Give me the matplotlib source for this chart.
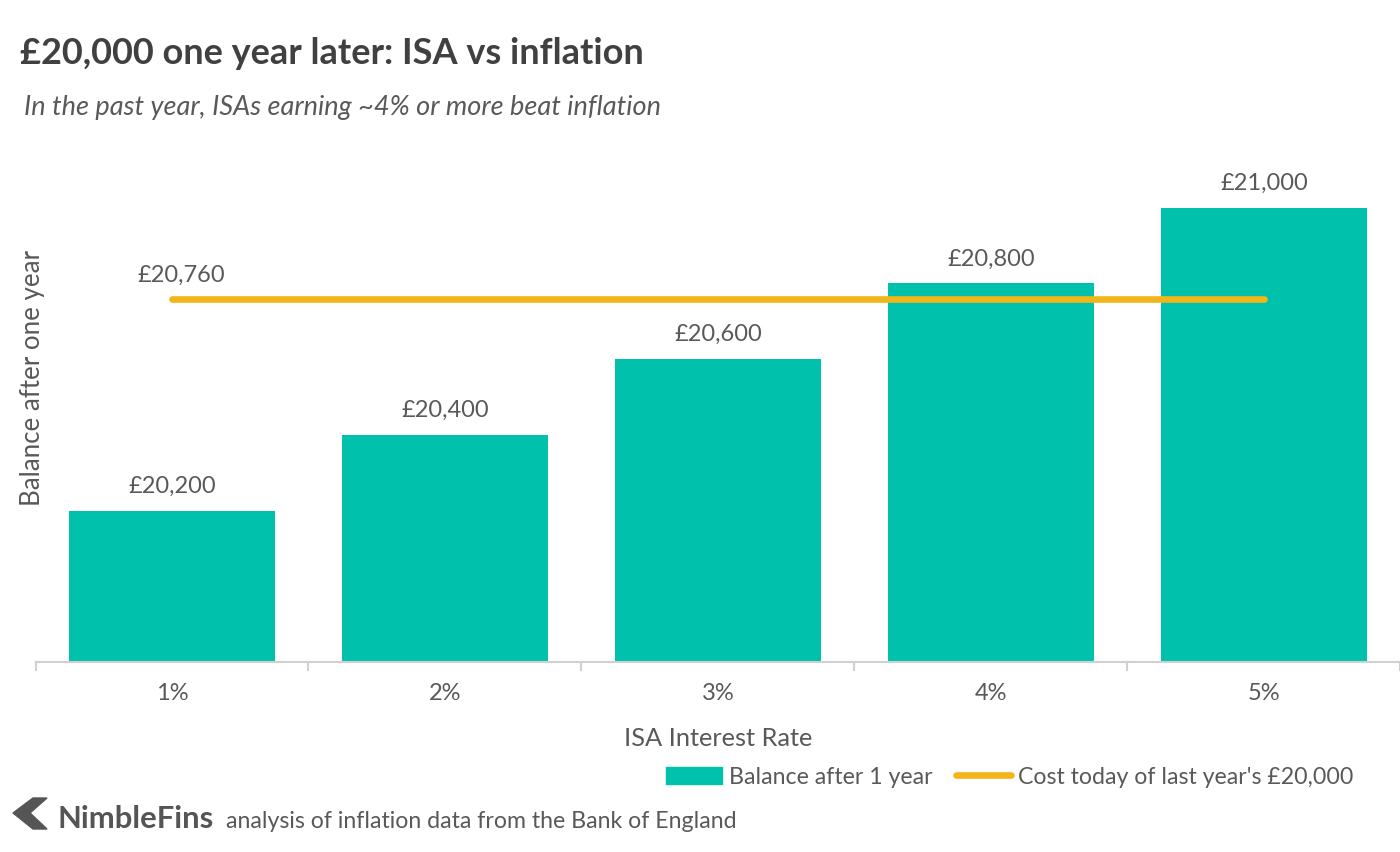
import matplotlib
matplotlib.use("Agg")
import matplotlib.pyplot as plt
from matplotlib.patches import Polygon, Patch
from matplotlib.lines import Line2D

categories = ["1%", "2%", "3%", "4%", "5%"]
balances = [20200, 20400, 20600, 20800, 21000]
inflation_cost = 20760
bar_labels = ["£20,200", "£20,400", "£20,600", "£20,800", "£21,000"]
line_label = "£20,760"

FONT = ["Lato", "DejaVu Sans"]
plt.rcParams["font.family"] = FONT
TEAL = "#00C2AC"
GOLD = "#F2B51A"
GRAY = "#595959"

fig = plt.figure(figsize=(14, 8.52), dpi=100)
ax = fig.add_axes([35.5/1400, (852-662)/852, 1365/1400, 530/852])

x = list(range(len(categories)))
ax.bar(x, balances, width=0.755, color=TEAL, zorder=2)
ax.plot([x[0], x[-1]], [inflation_cost]*2, color=GOLD, lw=4.8, solid_capstyle="round", zorder=3)

for xi, v, lab in zip(x, balances, bar_labels):
    ax.annotate(lab, (xi, v), xytext=(0, 10), textcoords="offset points",
                ha="center", va="bottom", fontsize=17, color=GRAY)
ax.annotate(line_label, (x[0], inflation_cost), xytext=(7, 9), textcoords="offset points",
            ha="center", va="bottom", fontsize=17, color=GRAY)

ax.set_xlim(-0.5, 4.5)
ax.set_ylim(19800, 21200)
ax.set_yticks([])
ax.set_xticks(x)
ax.set_xticklabels(categories, fontsize=17, color=GRAY)
ax.tick_params(axis="x", length=0, pad=15)
for b in [-0.5, 0.5, 1.5, 2.5, 3.5, 4.5]:
    ax.plot([b, b], [0, -0.015], transform=ax.get_xaxis_transform(), color="#D0D0D0",
            lw=1.5, clip_on=False)
for s in ["top", "right", "left"]:
    ax.spines[s].set_visible(False)
ax.spines["bottom"].set_color("#D0D0D0")
ax.spines["bottom"].set_linewidth(1.5)

ax.set_xlabel("ISA Interest Rate", fontsize=18.3, color=GRAY, labelpad=17)
fig.text(33/1400, 1-378/852, "Balance after one year", rotation=90, ha="center", va="center",
         fontsize=18.6, color=GRAY)

fig.text(20/1400, 1-53/852, "£20,000 one year later: ISA vs inflation", fontsize=26,
         fontweight="bold", color="#404040", ha="left", va="center")
fig.text(24/1400, 1-107/852, "In the past year, ISAs earning ~4% or more beat inflation",
         fontsize=19.5, style="italic", color=GRAY, ha="left", va="center")

handles = [Patch(color=TEAL, label="Balance after 1 year"),
           Line2D([0], [0], color=GOLD, lw=4.8, solid_capstyle="round",
                  label="Cost today of last year's £20,000")]
fig.legend(handles=handles, loc="center", bbox_to_anchor=(1010/1400, 1-777/852), ncol=2,
           frameon=False, fontsize=16.7, labelcolor=GRAY, handlelength=2.4, handletextpad=0.3,
           columnspacing=1.0)

# footer logo
pts = [(13, 813), (33, 798), (47, 798), (30, 813), (47, 829), (33, 829)]
chev = Polygon([(px / 1400, 1 - py / 852) for px, py in pts], closed=True,
               color="#555555", transform=fig.transFigure)
fig.patches.append(chev)
fig.text(58/1400, 1-819/852, "NimbleFins", fontsize=22.3, fontweight="bold", color="#555555",
         ha="left", va="center")
fig.text(226/1400, 1-821/852, "analysis of inflation data from the Bank of England",
         fontsize=16.7, color=GRAY, ha="left", va="center")

fig.savefig("out.png", dpi=100, facecolor="white")
